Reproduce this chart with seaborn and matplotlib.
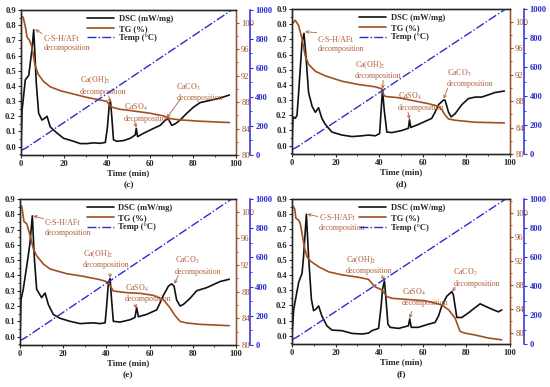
import matplotlib
matplotlib.use("Agg")
import matplotlib.pyplot as plt
import seaborn as sns
import pandas as pd
from matplotlib.ticker import MultipleLocator

# ---------------- data ----------------
# panel (c)
t_dsc_c = [0, 0.5, 2.0, 3.6, 5.1, 5.9, 6.5, 7.1, 8.2, 9.75, 11.3, 12.1, 13.6, 16.7, 19.8, 24.5, 27.6,
           30.6, 33.7, 36.8, 39.2, 40.2, 41.0, 41.6, 42.2, 43.0, 44.6, 47.7, 50.8, 53.1, 53.6, 54.2,
           57.0, 61.6, 64.7, 67.5, 68.6, 70.1, 71.7, 74.0, 77.1, 80.2, 83.3, 86.4, 89.5, 92.6, 96.9]
dsc_c = [0.0, 0.24, 0.44, 0.47, 0.64, 0.77, 0.60, 0.42, 0.22, 0.175, 0.19, 0.20, 0.13, 0.09, 0.055, 0.035,
         0.02, 0.02, 0.025, 0.022, 0.028, 0.13, 0.27, 0.30, 0.20, 0.045, 0.035, 0.04, 0.055, 0.077, 0.12,
         0.066, 0.088, 0.12, 0.14, 0.18, 0.18, 0.14, 0.15, 0.175, 0.22, 0.26, 0.29, 0.30, 0.31, 0.32, 0.34]
t_tg_c = [0, 1.0, 2.0, 2.8, 3.8, 5.0, 6.5, 8.0, 10.5, 13.6, 18.3, 24.5, 30.6, 36.8, 39.9, 41.5, 42.5,
          46.1, 52.3, 60.1, 66.3, 69.3, 74.0, 83.3, 96.9]
tg_c = [101.0, 100.8, 99.4, 97.8, 97.4, 96.4, 93.6, 92.2, 91.1, 90.3, 89.7, 89.2, 88.7, 88.3, 88.1, 87.4,
        87.2, 86.9, 86.65, 86.3, 85.9, 85.5, 85.3, 85.1, 84.9]

# panel (d)
t_dsc_d = [0, 0.46, 1.5, 2.3, 3.05, 4.6, 5.5, 6.4, 7.6, 9.2, 10.7, 12.2, 13.7, 15.3, 18.3, 22.9, 27.5,
           32.1, 35.1, 38.2, 40.2, 40.9, 41.5, 42.3, 43.5, 45.8, 50.4, 53.4, 53.9, 54.5, 58.0, 62.6,
           64.1, 65.6, 67.2, 69.5, 70.2, 71.8, 73.0, 74.8, 77.9, 80.9, 84.0, 87.0, 90.1, 93.1, 97.4]
dsc_d = [0.0, 0.19, 0.18, 0.20, 0.35, 0.68, 0.74, 0.59, 0.35, 0.26, 0.22, 0.25, 0.18, 0.14, 0.09, 0.07,
         0.06, 0.065, 0.07, 0.065, 0.08, 0.235, 0.37, 0.235, 0.09, 0.086, 0.10, 0.115, 0.17, 0.12, 0.14,
         0.17, 0.18, 0.22, 0.27, 0.30, 0.30, 0.22, 0.19, 0.21, 0.27, 0.31, 0.32, 0.32, 0.335, 0.35, 0.36]
t_tg_d = [0, 1.5, 3.05, 4.6, 6.1, 7.6, 10.7, 15.3, 22.9, 30.5, 38.2, 41.2, 42.0, 42.7, 48.9, 56.5, 62.6,
          67.2, 68.7, 70.2, 71.8, 74.8, 84.0, 97.4]
tg_d = [99.6, 100.2, 99.4, 97.4, 94.8, 93.55, 92.5, 91.8, 91.0, 90.5, 90.15, 89.85, 89.0, 88.7, 88.5,
        88.0, 87.6, 87.2, 86.7, 85.9, 85.3, 85.1, 84.8, 84.7]

# panel (e)
t_dsc_e = [0, 0.46, 1.5, 3.1, 4.6, 5.7, 6.6, 7.7, 10.0, 11.6, 13.1, 15.4, 18.5, 23.1, 27.8, 34.0, 37.0,
           39.4, 40.1, 40.9, 41.7, 42.4, 43.2, 46.3, 50.9, 53.2, 54.0, 54.8, 58.6, 63.3, 64.8, 66.4,
           68.7, 70.2, 71.3, 72.5, 74.1, 75.6, 78.7, 81.8, 86.4, 89.5, 92.6, 96.9]
dsc_e = [0.0, 0.24, 0.31, 0.46, 0.61, 0.79, 0.52, 0.31, 0.255, 0.285, 0.21, 0.145, 0.12, 0.10, 0.085,
         0.09, 0.085, 0.09, 0.20, 0.35, 0.38, 0.24, 0.10, 0.095, 0.11, 0.125, 0.19, 0.13, 0.145, 0.175,
         0.22, 0.27, 0.33, 0.345, 0.33, 0.24, 0.20, 0.21, 0.25, 0.30, 0.32, 0.34, 0.36, 0.375]
t_tg_e = [0, 0.8, 1.85, 3.1, 4.6, 6.2, 7.7, 10.8, 13.9, 21.6, 29.3, 37.0, 40.1, 41.7, 43.2, 49.4, 55.6,
          61.7, 66.4, 69.4, 71.8, 74.1, 77.2, 83.3, 96.9]
tg_e = [101.0, 100.8, 98.5, 98.2, 96.5, 94.4, 93.4, 92.15, 91.4, 90.7, 90.3, 89.8, 89.5, 88.9, 88.1,
        87.85, 87.75, 87.45, 86.8, 85.6, 84.4, 83.55, 83.3, 83.1, 82.9]

# panel (f)
t_dsc_f = [0, 0.76, 1.5, 3.05, 3.8, 4.6, 5.3, 6.6, 7.6, 8.9, 9.9, 11.0, 12.2, 13.7, 16.0, 18.3, 22.9,
           27.5, 32.1, 35.1, 36.6, 39.7, 40.9, 41.5, 42.4, 43.0, 44.0, 45.0, 48.9, 53.4, 54.0, 54.7,
           58.0, 62.6, 65.6, 67.2, 68.7, 71.0, 73.3, 74.0, 75.6, 77.9, 80.9, 84.0, 86.3, 88.5, 91.6,
           94.7, 96.2]
dsc_f = [0.0, 0.17, 0.23, 0.35, 0.38, 0.41, 0.52, 0.80, 0.52, 0.24, 0.165, 0.175, 0.196, 0.13, 0.065,
         0.037, 0.033, 0.015, 0.011, 0.017, 0.033, 0.048, 0.196, 0.305, 0.36, 0.26, 0.076, 0.055, 0.048,
         0.065, 0.11, 0.055, 0.055, 0.076, 0.087, 0.13, 0.196, 0.26, 0.29, 0.27, 0.12, 0.12, 0.15, 0.185,
         0.21, 0.195, 0.175, 0.157, 0.17]
t_tg_f = [0, 1.2, 1.8, 3.05, 3.8, 4.6, 5.8, 6.9, 8.4, 12.2, 16.8, 22.9, 30.5, 35.1, 36.6, 38.2, 41.2,
          43.5, 45.8, 53.4, 61.1, 65.6, 68.7, 71.8, 74.8, 77.1, 79.4, 84.0, 90.1, 96.2]
tg_f = [101.3, 100.7, 99.1, 98.8, 98.2, 96.6, 94.1, 92.7, 92.0, 91.05, 90.2, 89.7, 89.3, 88.95, 88.3,
        87.7, 87.2, 86.1, 85.8, 85.6, 85.4, 85.0, 84.7, 83.9, 82.5, 80.3, 80.0, 79.7, 79.2, 78.9]

# temperature program (same for all panels)
t_temp = [0, 2.5, 98]
temp = [30, 50, 1000]

panel_labels = ['(c)', '(d)', '(e)', '(f)']
ann_labels = ['C-S-H/AFt\ndecomposition', 'Ca(OH)$_2$\ndecomposition',
              'CaSO$_4$\ndecomposition', 'CaCO$_3$\ndecomposition']

# ---------------- style ----------------
sns.set_style("ticks")
plt.rcParams['font.family'] = ['Liberation Serif', 'DejaVu Serif']
plt.rcParams['mathtext.fontset'] = 'stix'
plt.rcParams['axes.linewidth'] = 0.9

C_DSC = '#111111'
C_TG = '#A24F22'
C_TEMP = '#2B2BD0'
C_ANN = '#B0603A'
FS = 6.1

fig = plt.figure(figsize=(5.5, 3.87), dpi=100)

rects = [
    [0.0382, 0.5995, 0.3910, 0.3747],
    [0.5309, 0.6020, 0.3964, 0.3747],
    [0.0364, 0.1085, 0.3927, 0.3773],
    [0.5309, 0.1110, 0.3964, 0.3747],
]
tg_limits = [(80, 101.9), (80, 101.9), (80, 101.9), (78.2, 102.3)]

data = [
    (t_dsc_c, dsc_c, t_tg_c, tg_c),
    (t_dsc_d, dsc_d, t_tg_d, tg_d),
    (t_dsc_e, dsc_e, t_tg_e, tg_e),
    (t_dsc_f, dsc_f, t_tg_f, tg_f),
]

# annotation text anchors (left, centre y) and arrow (from -> to), in data units
ann_specs = [
    [((10.5, 0.68), (9.8, 0.745), (6.6, 0.772)),
     ((27.5, 0.405), (40.8, 0.335), (41.5, 0.29)),
     ((48.0, 0.225), (52.8, 0.17), (53.6, 0.125)),
     ((72.2, 0.36), (74.0, 0.31), (67.8, 0.19))],
    [((11.8, 0.665), (11.3, 0.745), (6.0, 0.75)),
     ((28.9, 0.50), (41.8, 0.43), (41.6, 0.375)),
     ((48.6, 0.29), (53.2, 0.22), (53.9, 0.175)),
     ((71.0, 0.445), (71.5, 0.38), (69.6, 0.31))],
    [((11.6, 0.71), (11.0, 0.77), (6.2, 0.79)),
     ((29.0, 0.51), (41.7, 0.41), (41.7, 0.385)),
     ((48.6, 0.285), (53.2, 0.21), (53.9, 0.185)),
     ((71.8, 0.465), (73.3, 0.40), (71.5, 0.345))],
    [((12.5, 0.742), (11.8, 0.785), (7.0, 0.80)),
     ((24.8, 0.468), (41.2, 0.40), (42.3, 0.365)),
     ((50.3, 0.255), (54.9, 0.16), (54.0, 0.115)),
     ((74.0, 0.385), (74.8, 0.32), (73.6, 0.29))],
]

for i in range(4):
    tx, dy, tt, tgv = data[i]
    ax = fig.add_axes(rects[i])
    ax2 = ax.twinx()
    ax3 = ax.twinx()
    ax3.spines['right'].set_position(('axes', 1.066))

    df_d = pd.DataFrame({'t': tx, 'v': dy})
    df_t = pd.DataFrame({'t': tt, 'v': tgv})
    df_T = pd.DataFrame({'t': t_temp, 'v': temp})

    sns.lineplot(data=df_d, x='t', y='v', ax=ax, color=C_DSC, lw=1.2, label='DSC (mW/mg)', legend=False)
    sns.lineplot(data=df_t, x='t', y='v', ax=ax2, color=C_TG, lw=1.2, label='TG (%)', legend=False)
    sns.lineplot(data=df_T, x='t', y='v', ax=ax3, color=C_TEMP, lw=1.0, linestyle='-.',
                 label='Temp (\u00b0C)', legend=False)

    ax.set_xlim(0, 100)
    ax.set_ylim(-0.055, 0.9)
    ax2.set_ylim(*tg_limits[i])
    ax3.set_ylim(0, 1000)

    ax.xaxis.set_major_locator(MultipleLocator(20))
    ax.xaxis.set_minor_locator(MultipleLocator(10))
    ax.yaxis.set_major_locator(MultipleLocator(0.1))
    ax.yaxis.set_minor_locator(MultipleLocator(0.05))
    ax2.set_yticks([80, 84, 88, 92, 96, 100])
    ax2.yaxis.set_minor_locator(MultipleLocator(2))
    ax3.yaxis.set_major_locator(MultipleLocator(200))
    ax3.yaxis.set_minor_locator(MultipleLocator(100))

    ax.set_ylabel('')
    ax2.set_ylabel('')
    ax3.set_ylabel('')
    ax2.set_xlabel('')
    ax3.set_xlabel('')
    ax.set_xlabel('Time (min)', fontsize=FS + 0.3, fontweight='bold', labelpad=0.5)

    for a in (ax, ax2, ax3):
        a.tick_params(which='major', length=2.5, width=0.8, pad=1.2, labelsize=FS)
        a.tick_params(which='minor', length=1.5, width=0.6)
    for lab in ax.get_xticklabels() + ax.get_yticklabels():
        lab.set_fontweight('bold')

    ax2.spines['right'].set_color(C_TG)
    ax2.tick_params(axis='y', which='both', colors=C_TG)
    for lab in ax2.get_yticklabels():
        lab.set_color(C_TG)
    ax3.spines['right'].set_color(C_TEMP)
    ax3.spines['right'].set_linewidth(1.1)
    ax3.tick_params(axis='y', which='both', colors=C_TEMP)
    for lab in ax3.get_yticklabels():
        lab.set_fontweight('bold')
        lab.set_color(C_TEMP)

    # annotations
    for (txt_pos, a_from, a_to), lab in zip(ann_specs[i], ann_labels):
        ax.text(txt_pos[0], txt_pos[1], lab, fontsize=FS - 0.3, color=C_ANN, ha='left', va='center',
                linespacing=1.25, zorder=5)
        ax.annotate('', xy=a_to, xytext=a_from,
                    arrowprops=dict(arrowstyle='->', color=C_ANN, lw=0.6, shrinkA=0, shrinkB=0,
                                    mutation_scale=5))

    # legend
    hs, ls = [], []
    for a in (ax, ax2, ax3):
        h, l = a.get_legend_handles_labels()
        hs += h
        ls += l
    ax3.legend(hs, ls, loc='upper left', bbox_to_anchor=(0.285, 1.0), frameon=False,
               prop={'size': FS, 'weight': 'bold'}, handlelength=3.2, handletextpad=0.5,
               labelspacing=0.2, borderaxespad=0.2)

    # panel label
    pos = rects[i]
    fig.text(pos[0] + pos[2] / 2, pos[1] - 0.078, panel_labels[i], ha='center', va='center',
             fontsize=FS + 0.7, fontweight='bold')

fig.savefig('out.png', dpi=100)
